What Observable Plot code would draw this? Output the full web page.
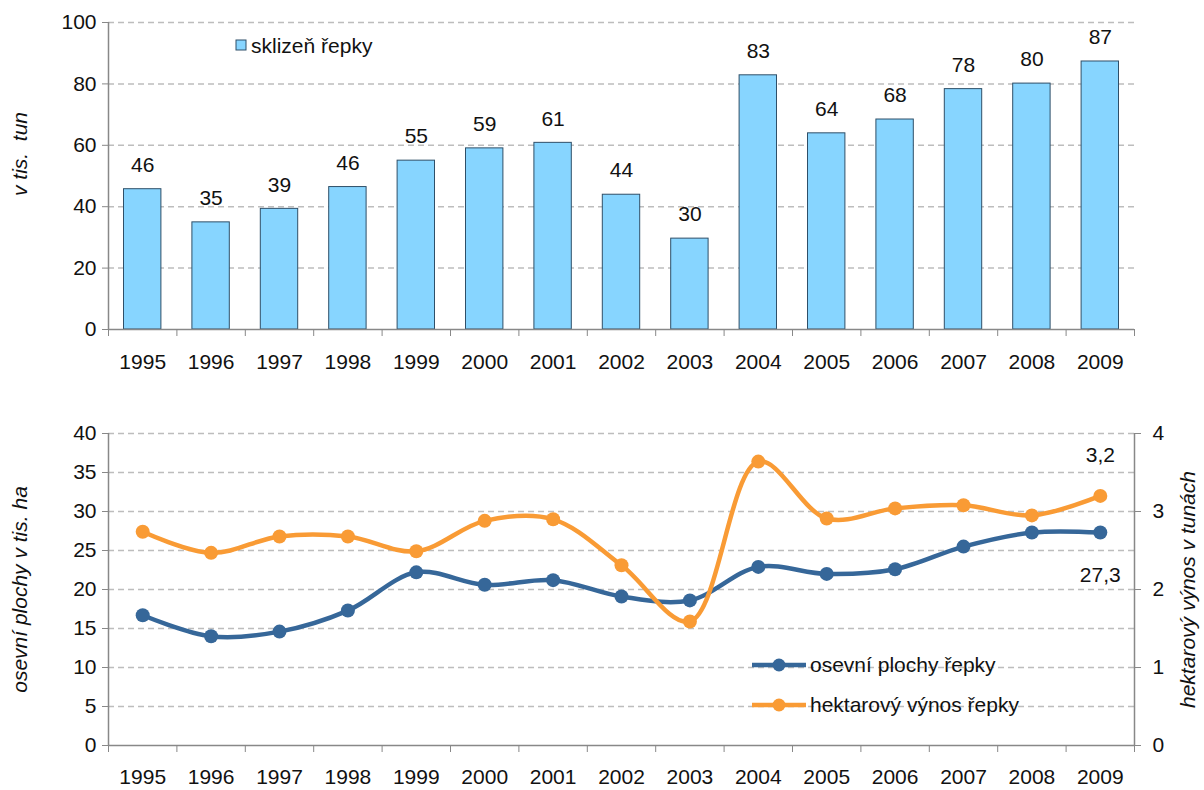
<!DOCTYPE html>
<html><head><meta charset="utf-8">
<script src="https://cdn.jsdelivr.net/npm/d3@7"></script>
<script src="https://cdn.jsdelivr.net/npm/@observablehq/plot@0.6"></script>
<style>
body{margin:0;background:#fff;font-family:"Liberation Sans",Arial,sans-serif;}
#wrap svg{display:block;}
</style></head><body><div id="wrap"></div>
<script>
const years = [1995,1996,1997,1998,1999,2000,2001,2002,2003,2004,2005,2006,2007,2008,2009];
const harvest = [45.7,34.9,39.3,46.4,55.0,59.0,60.8,43.9,29.6,82.8,63.9,68.4,78.3,80.1,87.3];
const area = [16.7,14.0,14.6,17.3,22.2,20.6,21.2,19.1,18.6,22.9,22.0,22.6,25.5,27.3,27.3];
const yieldHa = [2.74,2.47,2.68,2.68,2.49,2.88,2.90,2.31,1.59,3.64,2.91,3.04,3.08,2.95,3.20];
const topTicks = [0,20,40,60,80,100];
const leftTicks = [0,5,10,15,20,25,30,35,40];
const rightTicks = [0,1,2,3,4];

const barData = years.map((y,i)=>({year:y, v:harvest[i]}));
const areaData = years.map((y,i)=>({year:y, v:area[i]}));
const yieldData = years.map((y,i)=>({year:y, v:yieldHa[i]*10, raw:yieldHa[i]}));
const bounds = d3.range(years.length+1).map(i=>years[0]-0.5+i);

const FS = 21;
const gridCol = "#bdbdbd", axisCol = "#888";
const blue = "#366799", orange = "#F99B35", barFill = "#87D5FF", barStroke = "#2f4f68";
const fmt = d3.format(".1f");
const comma = v => fmt(v).replace(".", ",");

const xCommon = {type:"linear", domain:[years[0]-0.5, years[years.length-1]+0.5], axis:null};
const styleCommon = {fontFamily:'"Liberation Sans",Arial,sans-serif', fontSize:FS+"px", color:"#111", background:"#fff"};

const topChart = Plot.plot({
  width:1204, height:395, marginLeft:108, marginRight:70, marginTop:22, marginBottom:66,
  style:styleCommon,
  x: xCommon,
  y: {domain:[0,100], axis:null},
  marks:[
    Plot.gridY(topTicks.filter(d=>d>0), {stroke:gridCol, strokeOpacity:1, strokeWidth:1.5, strokeDasharray:"6,4"}),
    Plot.rectY(barData, {x1:d=>d.year-0.5, x2:d=>d.year+0.5, y:"v", insetLeft:15.5, insetRight:15.5, fill:barFill, stroke:barStroke, strokeWidth:1}),
    Plot.text(barData, {x:"year", y:"v", text:d=>Math.round(d.v), dy:-24, fontSize:FS, fill:"#111"}),
    Plot.ruleY([0], {stroke:axisCol, strokeWidth:1.5}),
    Plot.ruleX([years[0]-0.5], {stroke:axisCol, strokeWidth:1.5}),
    Plot.axisY(topTicks, {anchor:"left", tickSize:6, tickPadding:6, stroke:axisCol, fontSize:FS, fill:"#111",
      label:"v tis.  tun", labelAnchor:"center", labelArrow:"none", labelOffset:96}),
    Plot.axisX(bounds, {anchor:"bottom", tickSize:7, tickFormat:()=>"", stroke:axisCol, label:null}),
    Plot.axisX(years, {anchor:"bottom", tickSize:0, tickPadding:25, tickFormat:d=>String(d), fontSize:FS, fill:"#111", label:null})
  ]
});

const bottomChart = Plot.plot({
  width:1204, height:395, marginLeft:108, marginRight:70, marginTop:38, marginBottom:45,
  style:styleCommon,
  x: xCommon,
  y: {domain:[0,40], axis:null},
  marks:[
    Plot.gridY(leftTicks.filter(d=>d>0), {stroke:gridCol, strokeOpacity:1, strokeWidth:1.5, strokeDasharray:"6,4"}),
    Plot.ruleY([0], {stroke:axisCol, strokeWidth:1.5}),
    Plot.ruleX([years[0]-0.5], {stroke:axisCol, strokeWidth:1.5}),
    Plot.ruleX([years[years.length-1]+0.5], {stroke:axisCol, strokeWidth:1.5}),
    Plot.line(areaData, {x:"year", y:"v", stroke:blue, strokeWidth:4.5, curve:"catmull-rom"}),
    Plot.dot(areaData, {x:"year", y:"v", r:7, fill:blue}),
    Plot.line(yieldData, {x:"year", y:"v", stroke:orange, strokeWidth:4.5, curve:"catmull-rom"}),
    Plot.dot(yieldData, {x:"year", y:"v", r:7, fill:orange}),
    Plot.text(yieldData.slice(-1), {x:"year", y:"v", text:d=>comma(d.raw), dy:-41, fontSize:FS, fill:"#111"}),
    Plot.text(areaData.slice(-1), {x:"year", y:"v", text:d=>comma(d.v), dy:43, fontSize:FS, fill:"#111"}),
    Plot.axisY(leftTicks, {anchor:"left", tickSize:6, tickPadding:6, stroke:axisCol, fontSize:FS, fill:"#111",
      label:"osevní plochy v tis. ha", labelAnchor:"center", labelArrow:"none", labelOffset:96}),
    Plot.axisY(rightTicks.map(d=>d*10), {anchor:"right", tickSize:6, tickPadding:12, stroke:axisCol, fontSize:FS, fill:"#111",
      tickFormat:d=>String(d/10), label:"hektarový výnos v tunách", labelAnchor:"center", labelArrow:"none", labelOffset:60}),
    Plot.axisX(bounds, {anchor:"bottom", tickSize:7, tickFormat:()=>"", stroke:axisCol, label:null}),
    Plot.axisX(years, {anchor:"bottom", tickSize:0, tickPadding:24, tickFormat:d=>String(d), fontSize:FS, fill:"#111", label:null})
  ]
});

// italic axis labels
for (const svg of [topChart, bottomChart]) {
  d3.select(svg).selectAll("[aria-label='y-axis label']").style("font-style","italic");
}
// move top y label up a bit, like the reference
{
  const lab = d3.select(topChart).select("[aria-label='y-axis label']");
  const prev = lab.attr("transform") || "";
  lab.attr("transform", "translate(0,-22) " + prev);
}

// legends
function addText(svg, x, y, t){
  d3.select(svg).append("text").attr("x",x).attr("y",y).attr("dy","0.35em")
    .attr("text-anchor","start").attr("font-size",FS).attr("fill","#111").text(t);
}
const gt = d3.select(topChart);
gt.append("rect").attr("x",236).attr("y",40).attr("width",10).attr("height",10).attr("fill",barFill).attr("stroke",barStroke).attr("stroke-width",1);
addText(topChart, 251, 46, "sklizeň řepky");

const gb = d3.select(bottomChart);
const items = [[blue,"osevní plochy řepky",665-395],[orange,"hektarový výnos řepky",705-395]];
for (const [c,t,y] of items){
  gb.append("line").attr("x1",752).attr("x2",806).attr("y1",y).attr("y2",y).attr("stroke",c).attr("stroke-width",4.5);
  gb.append("circle").attr("cx",779).attr("cy",y).attr("r",6.5).attr("fill",c);
  addText(bottomChart, 810, y, t);
}

document.getElementById("wrap").append(topChart, bottomChart);
</script></body></html>
